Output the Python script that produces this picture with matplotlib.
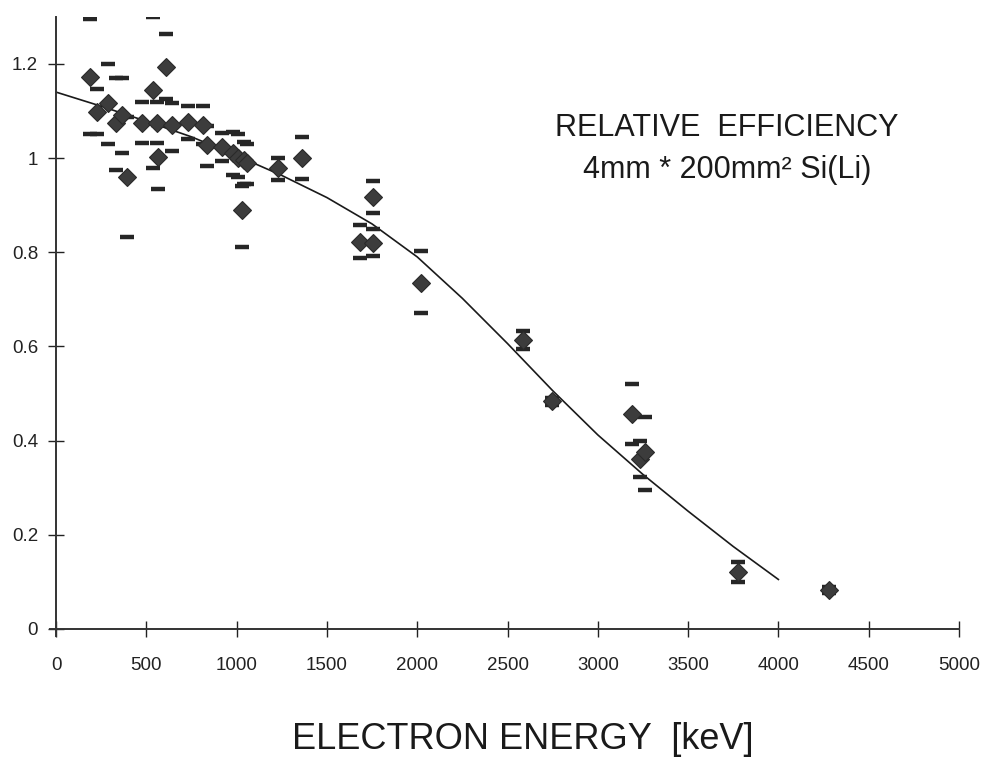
# Relative efficiency of a 4mm * 200mm2 Si(Li) detector vs electron energy
import matplotlib.pyplot as plt
import numpy as np

plt.rcParams['font.family'] = ['Liberation Sans', 'DejaVu Sans']

# Measured points: energy (keV), relative efficiency, lower / upper error
energy = [188, 227, 288, 332, 365, 393, 476, 537, 559, 565, 609, 642, 731, 814,
          836, 919, 980, 1010, 1040, 1060, 1030, 1229, 1362, 1683, 1755, 1755,
          2021, 2586, 2746, 3190, 3234, 3262, 3777, 4281]
eff = [1.172, 1.098, 1.117, 1.074, 1.091, 0.960, 1.074, 1.144, 1.074, 1.002,
       1.193, 1.070, 1.076, 1.070, 1.028, 1.023, 1.010, 1.000, 0.995, 0.990,
       0.890, 0.978, 1.000, 0.822, 0.820, 0.917, 0.735, 0.614, 0.483, 0.456,
       0.360, 0.375, 0.121, 0.083]
err_lo = [0.122, 0.048, 0.087, 0.099, 0.080, 0.128, 0.042, 0.165, 0.042, 0.068,
          0.068, 0.055, 0.035, 0.040, 0.045, 0.030, 0.045, 0.040, 0.050, 0.045,
          0.080, 0.025, 0.045, 0.035, 0.028, 0.034, 0.064, 0.020, 0.008, 0.063,
          0.037, 0.080, 0.021, 0.006]
err_hi = [0.123, 0.048, 0.083, 0.096, 0.079, 0.128, 0.045, 0.155, 0.045, 0.068,
          0.070, 0.047, 0.035, 0.040, 0.040, 0.030, 0.045, 0.050, 0.040, 0.040,
          0.050, 0.022, 0.045, 0.035, 0.030, 0.034, 0.068, 0.018, 0.008, 0.064,
          0.038, 0.075, 0.021, 0.006]

# Fitted curve
fit_energy = [0, 250, 500, 750, 1000, 1250, 1500, 1750, 2000, 2250, 2500,
              2750, 3000, 3250, 3500, 3750, 4000]
fit_eff = [1.140, 1.110, 1.078, 1.045, 1.005, 0.963, 0.916, 0.860, 0.790,
           0.702, 0.606, 0.506, 0.412, 0.328, 0.250, 0.175, 0.105]

x_ticks = [0, 500, 1000, 1500, 2000, 2500, 3000, 3500, 4000, 4500, 5000]
y_ticks = [0, 0.2, 0.4, 0.6, 0.8, 1.0, 1.2]

fig = plt.figure(figsize=(9.87, 7.62), dpi=100)
ax = fig.add_axes([0.0504, 0.1654, 0.9212, 0.8126])

ax.plot(fit_energy, fit_eff, color='#1a1a1a', lw=1.2, zorder=2)

e = np.array(energy)
v = np.array(eff)
# error bars are drawn as caps only
ax.plot(e, v + np.array(err_hi), ls='none', marker='_', ms=10, mew=3.2,
        color='#262626', zorder=3)
ax.plot(e, v - np.array(err_lo), ls='none', marker='_', ms=10, mew=3.2,
        color='#262626', zorder=3)
ax.plot(e, v, ls='none', marker='D', ms=9, color='#3c3c3c',
        mec='#2a2a2a', mew=0.8, zorder=4)

ax.set_xlim(-35, 5000)
ax.set_ylim(-0.015, 1.3)
ax.spines['left'].set_position(('data', 0))
ax.spines['bottom'].set_position(('data', 0))
for s in ['top', 'right']:
    ax.spines[s].set_visible(False)
for s in ['left', 'bottom']:
    ax.spines[s].set_linewidth(1.4)
    ax.spines[s].set_color('#333333')

ax.set_xticks(x_ticks)
ax.set_yticks(y_ticks)
ax.set_yticklabels(['%g' % t for t in y_ticks])
ax.tick_params(axis='x', direction='inout', length=12, width=1.0, pad=14,
               labelsize=13.5, colors='#222222')
ax.tick_params(axis='y', direction='inout', length=12, width=1.0, pad=7,
               labelsize=13.5, colors='#222222')

ax.text(3715, 1.064, 'RELATIVE  EFFICIENCY', ha='center', va='center',
        fontsize=22, color='#1a1a1a')
ax.text(3715, 0.975, '4mm * 200mm² Si(Li)', ha='center', va='center',
        fontsize=22, color='#1a1a1a')

fig.text(0.53, 0.03, 'ELECTRON ENERGY  [keV]', ha='center', va='center',
         fontsize=26, color='#1a1a1a')

fig.savefig('out.png', dpi=100, facecolor='white')
